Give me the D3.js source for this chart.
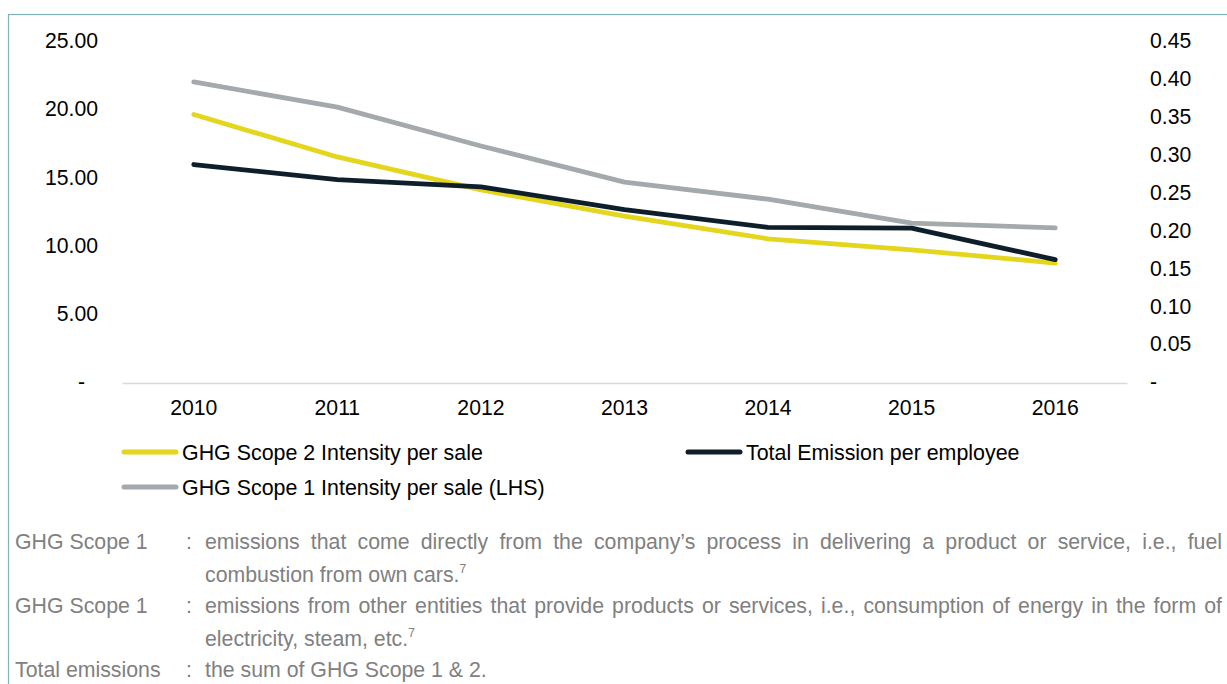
<!DOCTYPE html>
<html>
<head>
<meta charset="utf-8">
<script src="https://cdn.jsdelivr.net/npm/d3@7"></script>
<style>
  body { margin: 0; background: #fff; }
  svg { display: block; }
  text { font-family: "Liberation Sans", Arial, sans-serif; }
</style>
</head>
<body>
<svg id="chart" width="1227" height="684"></svg>
<script>
// data
const years = [2010, 2011, 2012, 2013, 2014, 2015, 2016];
const scope2PerSale = [0.353, 0.297, 0.2535, 0.219, 0.189, 0.1745, 0.157];     // right axis
const totalPerEmployee = [0.287, 0.267, 0.2575, 0.2275, 0.204, 0.203, 0.1615]; // right axis
const scope1PerSale = [22.0, 20.15, 17.3, 14.65, 13.4, 11.65, 11.3];           // left axis (LHS)
const leftTicks = [0, 5, 10, 15, 20, 25];
const rightTicks = [0, 0.05, 0.10, 0.15, 0.20, 0.25, 0.30, 0.35, 0.40, 0.45];
const legendLabels = ['GHG Scope 2 Intensity per sale', 'Total Emission per employee', 'GHG Scope 1 Intensity per sale (LHS)'];
const noteTerms = ['GHG Scope 1', 'GHG Scope 1', 'Total emissions'];
const noteText = [
  ['emissions that come directly from the company\u2019s process in delivering a product or service, i.e., fuel', 'combustion from own cars.'],
  ['emissions from other entities that provide products or services, i.e., consumption of energy in the form of', 'electricity, steam, etc.'],
  ['the sum of GHG Scope 1 & 2.']
];

const colors = { scope2: '#e4d61c', total: '#0e1f2b', scope1: '#a4a9ac' };
const fontSize = 21.2;

const svg = d3.select('#chart');

// frame (only top and left edge visible)
svg.append('rect')
  .attr('x', 8.5).attr('y', 14.5)
  .attr('width', 1300).attr('height', 800)
  .attr('fill', 'none')
  .attr('stroke', '#7fb3b6')
  .attr('stroke-width', 1.2);

const x = d3.scaleBand().domain(years).range([122, 1127]);
const yLeft = d3.scaleLinear().domain([0, 25]).range([382, 41]);
const yRight = d3.scaleLinear().domain([0, 0.45]).range([382, 41]);
const cx = d => x(d) + x.bandwidth() / 2;

// left axis
const gl = svg.append('g')
  .attr('transform', 'translate(98,0)')
  .call(d3.axisLeft(yLeft).tickValues(leftTicks).tickSize(0).tickPadding(0)
    .tickFormat(d => d === 0 ? '-' : d.toFixed(2)));
gl.select('.domain').remove();
gl.selectAll('text').attr('font-size', fontSize).attr('fill', '#000')
  .attr('font-family', '"Liberation Sans", Arial, sans-serif')
  .attr('dx', d => d === 0 ? -13 : 0);

// right axis
const gr = svg.append('g')
  .attr('transform', 'translate(1150,0)')
  .call(d3.axisRight(yRight).tickValues(rightTicks).tickSize(0).tickPadding(0)
    .tickFormat(d => d === 0 ? '-' : d.toFixed(2)));
gr.select('.domain').remove();
gr.selectAll('text').attr('font-size', fontSize).attr('fill', '#000')
  .attr('font-family', '"Liberation Sans", Arial, sans-serif');

// x axis
const gx = svg.append('g')
  .attr('transform', 'translate(0,383)')
  .call(d3.axisBottom(x).tickSize(0).tickSizeOuter(0).tickPadding(17));
gx.select('.domain').attr('stroke', '#d9d9d9').attr('stroke-width', 1.6);
gx.selectAll('text').attr('font-size', fontSize).attr('fill', '#000')
  .attr('font-family', '"Liberation Sans", Arial, sans-serif');

// lines
const series = [
  { values: scope1PerSale, y: yLeft, color: colors.scope1 },
  { values: scope2PerSale, y: yRight, color: colors.scope2 },
  { values: totalPerEmployee, y: yRight, color: colors.total }
];
series.forEach(s => {
  const line = d3.line().x((d, i) => cx(years[i])).y(d => s.y(d));
  svg.append('path')
    .attr('d', line(s.values))
    .attr('fill', 'none')
    .attr('stroke', s.color)
    .attr('stroke-width', 4.8)
    .attr('stroke-linecap', 'round')
    .attr('stroke-linejoin', 'round');
});

// legend
const legendItems = [
  { label: legendLabels[0], color: colors.scope2, x: 124, y: 452 },
  { label: legendLabels[1], color: colors.total, x: 688, y: 452 },
  { label: legendLabels[2], color: colors.scope1, x: 124, y: 487 }
];
const lg = svg.append('g').selectAll('g').data(legendItems).join('g')
  .attr('transform', d => `translate(${d.x},${d.y})`);
lg.append('line')
  .attr('x1', 0).attr('x2', 52).attr('y1', 0).attr('y2', 0)
  .attr('stroke', d => d.color).attr('stroke-width', 5).attr('stroke-linecap', 'round');
lg.append('text')
  .attr('x', 58).attr('dy', '0.35em')
  .attr('font-size', 21.4).attr('fill', '#000')
  .text(d => d.label);

// footnotes
const noteFont = 21.3;
const noteColor = '#808080';
const rowY = [549, 582, 613, 646, 677];
const bodyX = 205, rightX = 1222;

function justify(words, x0, y, width) {
  const g = svg.append('g').attr('transform', `translate(${x0},${y})`);
  const texts = words.map(w => g.append('text').attr('font-size', noteFont).attr('fill', noteColor).text(w));
  const widths = texts.map(t => t.node().getComputedTextLength());
  const gap = (width - d3.sum(widths)) / (words.length - 1);
  let pos = 0;
  texts.forEach((t, i) => { t.attr('x', pos); pos += widths[i] + gap; });
}

function plain(str, x0, y, sup) {
  const t = svg.append('text').attr('x', x0).attr('y', y)
    .attr('font-size', noteFont).attr('fill', noteColor).text(str);
  if (sup) t.append('tspan').attr('font-size', 12).attr('dy', -9).text(sup);
}

let row = 0;
noteTerms.forEach((term, i) => {
  plain(term, 15, rowY[row]);
  plain(':', 186, rowY[row]);
  const lines = noteText[i];
  lines.forEach((ln, j) => {
    const last = j === lines.length - 1;
    if (!last) justify(ln.split(' '), bodyX, rowY[row], rightX - bodyX);
    else plain(ln, bodyX, rowY[row], i < 2 ? '7' : null);
    row++;
  });
});
</script>
</body>
</html>
